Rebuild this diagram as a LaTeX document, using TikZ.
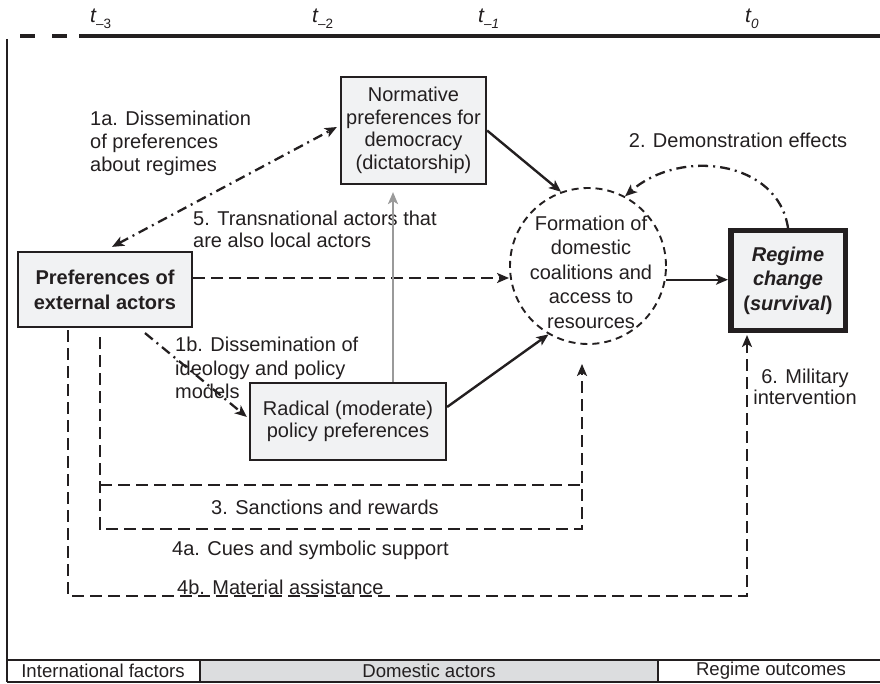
\documentclass[tikz,border=0pt]{standalone}
\usepackage{fontspec}
\setmainfont{Liberation Sans}
\usetikzlibrary{arrows.meta}
\definecolor{ink}{HTML}{231F20}
\definecolor{boxfill}{HTML}{F1F2F3}
\definecolor{stripfill}{HTML}{DCDDDF}
\definecolor{grayline}{HTML}{9A9A9A}
\begin{document}
\begin{tikzpicture}[x=1pt,y=-1pt,
  every node/.style={font=\fontsize{20}{23}\selectfont, text=ink, inner sep=0pt},
  boxnode/.style={draw=ink, line width=2.2pt, fill=boxfill, align=center},
  headtip/.style={-{Stealth[length=12pt,width=10pt,inset=3pt]}},
  bothtips/.style={{Stealth[length=12pt,width=10pt,inset=3pt]}-{Stealth[length=12pt,width=10pt,inset=3pt]}},
  solidline/.style={draw=ink, line width=2.4pt},
  dashline/.style={draw=ink, line width=2.3pt, dash pattern=on 12pt off 6pt},
  dashdotline/.style={draw=ink, line width=2.3pt, dash pattern=on 10pt off 5pt on 2pt off 5pt},
  striptext/.style={font=\fontsize{18.6}{20}\selectfont},
  tlabel/.style={anchor=base west, font=\itshape\fontsize{21}{22}\selectfont}
]
\useasboundingbox (0,0) rectangle (880,684);

% time axis
\draw[ink, line width=4.5pt] (20,36) -- (35,36);
\draw[ink, line width=4.5pt] (52,36) -- (67,36);
\draw[ink, line width=4.5pt] (79,36) -- (880,36);
\node[tlabel] (t3) at (90,23) {t\raisebox{-6pt}{\upshape\fontsize{13.5}{14}\selectfont –3}};
\node[tlabel] (t2) at (312,23) {t\raisebox{-6pt}{\upshape\fontsize{13.5}{14}\selectfont –2}};
\node[tlabel] (t1) at (478,23) {t\raisebox{-6pt}{\fontsize{13.5}{14}\selectfont –1}};
\node[tlabel] (t0) at (745,23) {t\raisebox{-6pt}{\fontsize{13.5}{14}\selectfont 0}};

% frame
\draw[ink, line width=1.4pt] (7,39) -- (7,682);
\fill[stripfill] (200,660) rectangle (658,682);
\draw[ink, line width=1.4pt] (7,660) -- (880,660);
\draw[ink, line width=1.4pt] (7,682) -- (880,682);
\draw[ink, line width=1.4pt] (200,660) -- (200,682);
\draw[ink, line width=1.4pt] (658,660) -- (658,682);
\node[striptext] (sIF) at (103,671) {International factors};
\node[striptext] (sDA) at (429,671) {Domestic actors};
\node[striptext] (sRO) at (771,671) {Regime outcomes};

% main nodes
\node[boxnode, minimum width=145pt, minimum height=107pt, font=\fontsize{20}{22.5}\selectfont] (norm) at (413.5,130.5) {Normative\\preferences for\\democracy\\(dictatorship)};
\node[boxnode, minimum width=174pt, minimum height=75pt, font=\bfseries\fontsize{20}{25}\selectfont] (prefs) at (105,289.5) {Preferences of\\external actors};
\node[boxnode, minimum width=196pt, minimum height=77pt, font=\fontsize{20}{21.5}\selectfont] (rad) at (348,421.5) {Radical (moderate)\\policy preferences};
\node[boxnode, line width=5.5pt, minimum width=114.5pt, minimum height=99.5pt, font=\bfseries\itshape\fontsize{20}{24.5}\selectfont] (reg) at (788,280.5) {Regime\\change\\\textup{(}survival\textup{)}};
\node[draw=ink, circle, line width=1.9pt, dash pattern=on 7pt off 5pt, minimum size=156pt] (form) at (588,266) {};
\node[align=center, font=\fontsize{20}{24.5}\selectfont] (formtxt) at (591,272) {Formation of\\domestic\\coalitions and\\access to\\resources};

% labels
\node[anchor=west, align=left] (l1a) at (90,143) {1a. Dissemination\\of preferences\\about regimes};
\node[anchor=west, align=left, font=\fontsize{20}{22}\selectfont] (l5) at (193,229) {5. Transnational actors that\\are also local actors};
\node[anchor=west, align=left, font=\fontsize{20}{23.5}\selectfont] (l1b) at (175,368) {1b. Dissemination of\\ideology and policy\\models};
\node (l2) at (738,140) {2. Demonstration effects};
\node[align=center, font=\fontsize{20}{21}\selectfont] (l6) at (805,387) {6. Military\\intervention};
\node (l3) at (325,507) {3. Sanctions and rewards};
\node[anchor=west] (l4a) at (172,550) {4a. Cues and symbolic support};
\node[anchor=west] (l4b) at (177,587) {4b. Material assistance};

% connectors
\draw[dashdotline, bothtips] ([xshift=7pt,yshift=4pt]prefs.north) -- ([xshift=-3pt,yshift=3.5pt]norm.west);
\draw[dashdotline, headtip] ([xshift=40pt,yshift=-5pt]prefs.south) -- ([xshift=-2pt,yshift=4.5pt]rad.west);
\draw[solidline, headtip] (norm.east) -- (form.110);
\draw[solidline, headtip] ([yshift=14.5pt]rad.east) -- (form.240);
\draw[solidline, headtip] (form.-10) -- (form.-10 -| reg.west);
\draw[dashline, headtip] ([yshift=11.5pt]prefs.east) -- ([yshift=11.5pt]prefs.east -| form.west);
\draw[grayline, line width=2.2pt, headtip] ([xshift=45pt]rad.north) -- ([xshift=-20.5pt,yshift=-7pt]norm.south);
\draw[dashdotline, headtip] (reg.north) .. controls (778,160) and (680,148) .. (form.62);

\coordinate (c3top) at ([xshift=-5pt,yshift=-9pt]prefs.south);
\coordinate (c3bl) at (100,529);
\coordinate (c3br) at (582,529);
\coordinate (c3tl) at (100,485);
\coordinate (c3tr) at (582,485);
\draw[dashline, headtip] (c3top) -- (c3bl) -- (c3br) -- ([xshift=-6pt,yshift=-19pt]form.south);
\draw[dashline] (c3tl) -- (c3tr);

\coordinate (c4top) at ([xshift=-37pt,yshift=-2pt]prefs.south);
\coordinate (c4bl) at (68,596);
\coordinate (c4br) at (747,596);
\draw[dashline, headtip] (c4top) -- (c4bl) -- (c4br) -- ([xshift=-41pt,yshift=-2pt]reg.south);
\end{tikzpicture}
\end{document}
